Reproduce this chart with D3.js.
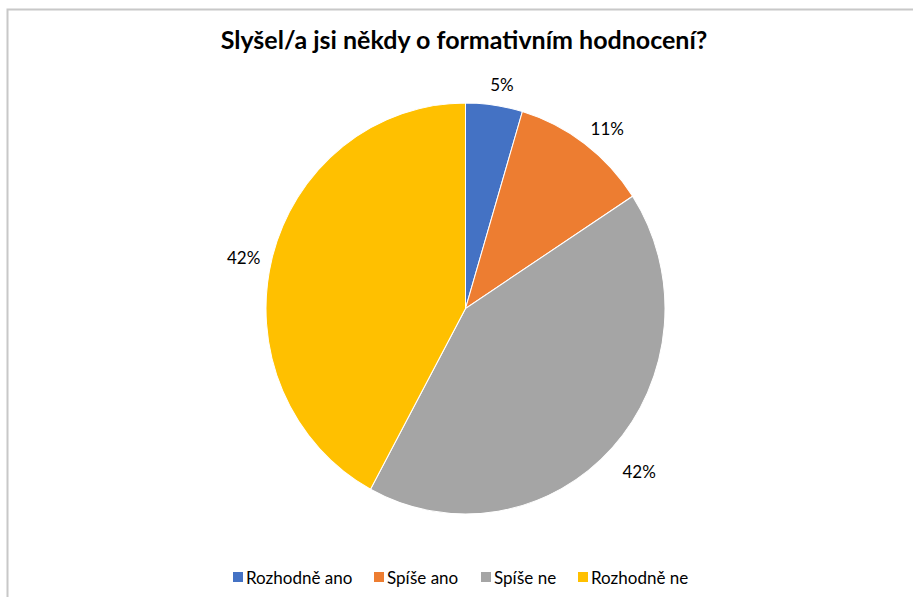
<!DOCTYPE html>
<html>
<head>
<meta charset="utf-8">
<script src="https://cdn.jsdelivr.net/npm/d3@7"></script>
<style>
  body { margin: 0; background: #fff; }
  text { font-family: Lato, "Open Sans", "Liberation Sans", sans-serif; fill: #000; }
</style>
</head>
<body>
<svg width="913" height="597"></svg>
<script>
var categories = ["Rozhodně ano", "Spíše ano", "Spíše ne", "Rozhodně ne"];
var shares = [4.6, 11.2, 42.1, 42.1];
var colors = ["#4472C4", "#ED7D31", "#A5A5A5", "#FFC000"];
var title = "Slyšel/a jsi někdy o formativním hodnocení?";

var svg = d3.select("svg");
var cx = 465.5, cy = 308.5;
var radius = 199.5;
var yStretch = 205.5 / 199.5;
var labelRadius = 232;

var total = d3.sum(shares);
var data = shares.map(function(v, i) { return { name: categories[i], value: v, color: colors[i] }; });
var fmt = d3.format(".0%");

// chart frame (cropped)
svg.append("path")
  .attr("d", "M7.5,600 V9.5 H920")
  .attr("fill", "none")
  .attr("stroke", "#c8c8c8")
  .attr("stroke-width", 2);

svg.append("text")
  .attr("x", 464)
  .attr("y", 49)
  .attr("text-anchor", "middle")
  .style("font-size", "25px")
  .style("font-weight", "bold")
  .text(title);

var pie = d3.pie().sort(null).value(function(d) { return d.value; });
var arcs = pie(data);
var arc = d3.arc().innerRadius(0).outerRadius(radius);
var labelArc = d3.arc().innerRadius(labelRadius).outerRadius(labelRadius);

var g = svg.append("g")
  .attr("transform", "translate(" + cx + "," + cy + ") scale(1," + yStretch + ")");

g.selectAll("path")
  .data(arcs)
  .enter().append("path")
    .attr("d", arc)
    .attr("fill", function(d) { return d.data.color; })
    .attr("stroke", "#fff")
    .attr("stroke-width", 1);

svg.append("g")
  .attr("transform", "translate(" + cx + "," + cy + ")")
  .selectAll("text")
  .data(arcs)
  .enter().append("text")
    .attr("x", function(d) { return labelArc.centroid(d)[0] + 3; })
    .attr("y", function(d) { return labelArc.centroid(d)[1] + 6; })
    .attr("text-anchor", "middle")
    .attr("dominant-baseline", "central")
    .style("font-size", "17px")
    .text(function(d) { return fmt(d.data.value / total); });

// legend
var legendX = [233, 374, 481, 578];
var legend = svg.append("g").selectAll("g")
  .data(data)
  .enter().append("g")
    .attr("transform", function(d, i) { return "translate(" + legendX[i] + ",577)"; });

legend.append("rect")
  .attr("x", 0)
  .attr("y", -5)
  .attr("width", 10)
  .attr("height", 10)
  .attr("fill", function(d) { return d.color; });

legend.append("text")
  .attr("x", 13)
  .attr("y", 0)
  .attr("dominant-baseline", "central")
  .style("font-size", "17px")
  .text(function(d) { return d.name; });
</script>
</body>
</html>
